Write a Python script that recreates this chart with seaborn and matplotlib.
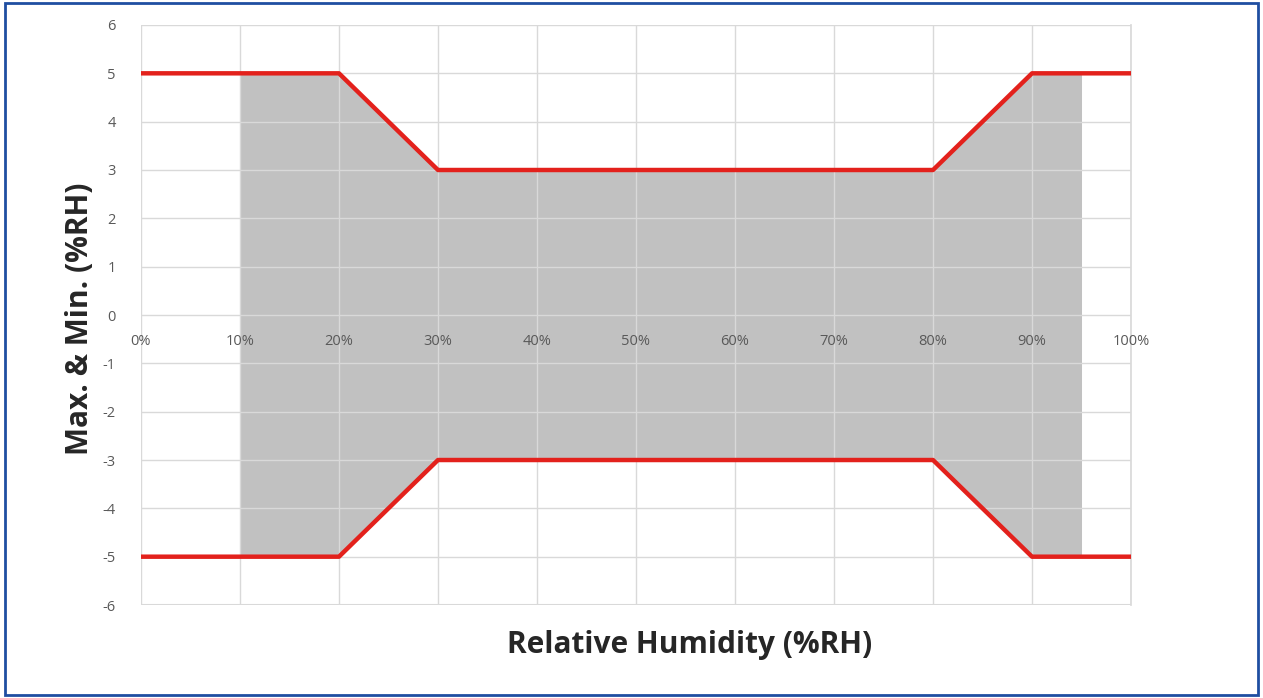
import matplotlib
matplotlib.use("Agg")
import matplotlib.pyplot as plt
import matplotlib.patches as patches
import matplotlib.ticker as mticker
import pandas as pd
import seaborn as sns

# Pontos das curvas de tolerância (%RH)
rh_pts = [0, 20, 30, 80, 90, 100]
limite_max = [5, 5, 3, 3, 5, 5]
limite_min = [-5, -5, -3, -3, -5, -5]

# Área sombreada (faixa de operação)
faixa_rh = [10, 20, 30, 80, 90, 95]
faixa_max = [5, 5, 3, 3, 5, 5]
faixa_min = [-5, -5, -3, -3, -5, -5]

x_ticks = [0, 10, 20, 30, 40, 50, 60, 70, 80, 90, 100]
y_ticks = [-6, -5, -4, -3, -2, -1, 0, 1, 2, 3, 4, 5, 6]

df = pd.DataFrame({
    "RH": rh_pts * 2,
    "Valor": limite_max + limite_min,
    "Curva": ["max"] * len(rh_pts) + ["min"] * len(rh_pts),
})

sns.set_theme(style="white")
plt.rcParams["font.family"] = ["Open Sans", "DejaVu Sans"]
plt.rcParams["axes.unicode_minus"] = False

fig = plt.figure(figsize=(12.63, 6.98), dpi=100)
ax = fig.add_axes([0.1116, 0.1332, 0.7839, 0.831])

ax.fill_between(faixa_rh, faixa_min, faixa_max, color="#c1c1c1", lw=0, zorder=1)
sns.lineplot(data=df, x="RH", y="Valor", units="Curva", estimator=None,
             color="#e3211c", linewidth=3.2, ax=ax, zorder=3)

ax.set_xlim(0, 100)
ax.set_ylim(-6, 6)
ax.set_xticks(x_ticks)
ax.set_yticks(y_ticks)
ax.xaxis.set_major_formatter(mticker.FuncFormatter(lambda v, p: f"{int(v)}%"))
ax.yaxis.set_major_formatter(mticker.FuncFormatter(lambda v, p: f"{int(v)}"))
ax.grid(True, color="#d9d9d9", linewidth=1, zorder=2)
ax.set_axisbelow(False)

for s in ["top", "left"]:
    ax.spines[s].set_visible(False)
ax.spines["right"].set_color("#d9d9d9")
ax.spines["bottom"].set_position(("data", 0))
ax.spines["bottom"].set_visible(False)

ax.tick_params(axis="both", length=0, labelsize=10.5, labelcolor="#595959")
ax.tick_params(axis="x", pad=14)
ax.tick_params(axis="y", pad=18)

# linha inferior do quadro
ax.axhline(-6, color="#d9d9d9", lw=1.5, zorder=2)

ax.set_xlabel("")
ax.set_ylabel("")
fig.text(0.546, 0.076, "Relative Humidity (%RH)", ha="center", va="center",
         fontsize=21.5, fontweight="bold", color="#262626")
fig.text(0.0635, 0.543, "Max. & Min. (%RH)", ha="center", va="center",
         rotation=90, fontsize=21.5, fontweight="bold", color="#262626")

# moldura azul
fig.patches.append(patches.Rectangle((0.004, 0.004), 0.992, 0.991,
                                     transform=fig.transFigure, fill=False,
                                     edgecolor="#1f4ea1", linewidth=2))

fig.savefig("out.png", dpi=100)
